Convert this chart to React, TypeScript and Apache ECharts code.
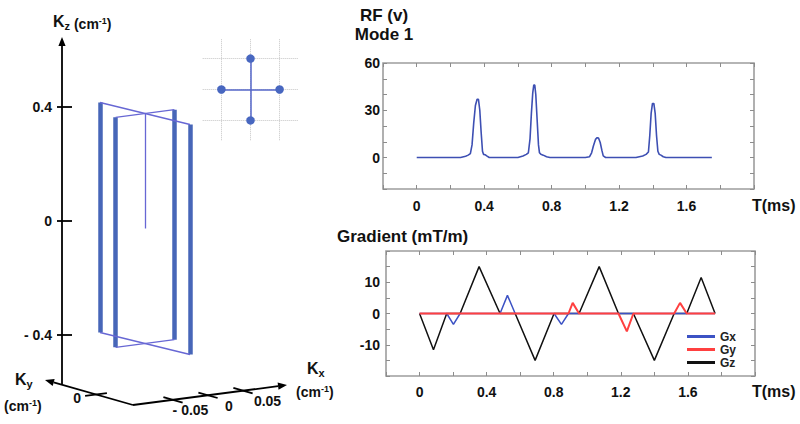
import React, { useEffect, useRef } from "react";
import * as echarts from "echarts";

// ---------- RF pulse (Mode 1), volts vs ms ----------
const rfTime = [
  0, 0.26, 0.29, 0.305, 0.318, 0.328, 0.338, 0.348, 0.358, 0.366, 0.374, 0.382, 0.39, 0.396, 0.405, 0.415, 0.43,
  0.6, 0.63, 0.65, 0.662, 0.672, 0.68, 0.688, 0.694, 0.7, 0.706, 0.714, 0.722, 0.728, 0.736, 0.75, 0.77, 0.79,
  1.0, 1.025, 1.037, 1.048, 1.06, 1.07, 1.078, 1.088, 1.098, 1.106, 1.12,
  1.3, 1.34, 1.36, 1.374, 1.382, 1.39, 1.398, 1.406, 1.414, 1.422, 1.43, 1.438, 1.448, 1.462, 1.478, 1.75,
];
const rfVolt = [
  0, 0, 0.8, 1.5, 2.5, 8, 22, 33, 37, 37, 30, 16, 4, 2, 1.8, 1, 0,
  0, 1, 2, 3, 12, 28, 41, 46, 46, 40, 24, 8, 3, 2, 1.5, 0.5, 0,
  0, 0.5, 3, 7.5, 11.5, 12.6, 12.4, 9.5, 4.5, 1, 0,
  0, 1, 2, 3.5, 14, 28, 34.3, 34.3, 28, 14, 4, 2, 1.5, 0.5, 0, 0,
];

// ---------- Gradients (mT/m) vs ms ----------
const gxTime = [0, 0.162, 0.202, 0.242, 0.48, 0.524, 0.57, 0.802, 0.846, 0.888, 1.762];
const gxValue = [0, 0, -3.5, 0, 0, 5.8, 0, 0, -3.5, 0, 0];
const gyTime = [0, 0.888, 0.913, 0.951, 1.186, 1.236, 1.275, 1.518, 1.553, 1.593, 1.762];
const gyValue = [0, 0, 3.4, 0, 0, -5.7, 0, 0, 3.4, 0, 0];
const gzTime = [0, 0.083, 0.162, 0.242, 0.355, 0.48, 0.57, 0.689, 0.802, 0.951, 1.071, 1.186, 1.275, 1.4, 1.518, 1.593, 1.679, 1.762];
const gzValue = [0, -11.6, 0, 0, 15, 0, 0, -15, 0, 0, 15, 0, 0, -15, 0, 0, 11.5, 0];

// ---------- tick labels ----------
const timeLabels = [0, 0.4, 0.8, 1.2, 1.6];
const rfLabels = [0, 30, 60];
const gradLabels = [-10, 0, 10];
const kzTicks = [0.4, 0, -0.4];
const kzTickLabels = ["0.4", "0", "- 0.4"];
const kxTicks = [-0.05, 0, 0.05];
const kxTickLabels = ["- 0.05", "0", "0.05"];
const kyTicks = [0];
const kyTickLabels = ["0"];

// ---------- k-space trajectory (cm^-1) : points A, B, C, D ----------
const trajKx = [0, -0.042, 0.042, 0];
const trajKy = [0.042, 0, 0, -0.042];
const kzExtent = [-0.4, 0.4];
const centerLineKz = [0, 0.4];
const crossPairs = [[0, 3], [1, 2]];
const insetGridVals = [-0.042, 0, 0.042];
const insetGridExtent = [-0.069, 0.069];

// ---------- layout / styling ----------
const FONT = '"Liberation Sans", Arial, Helvetica, sans-serif';
const P = { ox: 145, oy: 228.5, exX: 700, exY: -91, eyX: -1071, eyY: -262, s: 287.5 };
const KZ_AXIS = { x: 62, yBase: 384, tip: [62, 37], y0: 221, pxPerUnit: 285 };
const KY_AXIS = { from: [133, 405], tip: [45, 380], zeroX: 96, pxPerUnit: 1071 };
const KX_AXIS = { from: [133, 405], tip: [287, 385], zeroX: 208, pxPerUnit: 700 };

const proj = (kx: number, ky: number, kz: number): number[] => [
  P.ox + kx * P.exX + ky * P.eyX,
  P.oy + kx * P.exY + ky * P.eyY - kz * P.s,
];
const pair = (xs: number[], ys: number[]) => xs.map((x, i) => [x, ys[i]]);
const near = (list: number[], v: number) => list.find((t) => Math.abs(t - v) < 1e-6);
const yOnLine = (ax: { from: number[]; tip: number[] }, X: number) =>
  ax.from[1] + ((X - ax.from[0]) * (ax.tip[1] - ax.from[1])) / (ax.tip[0] - ax.from[0]);
const unit = (ax: { from: number[]; tip: number[] }) => {
  const dx = ax.tip[0] - ax.from[0];
  const dy = ax.tip[1] - ax.from[1];
  const l = Math.hypot(dx, dy);
  return [dx / l, dy / l];
};

function arrowHead(from: number[], tip: number[], len = 9, half = 3.6) {
  const dx = tip[0] - from[0];
  const dy = tip[1] - from[1];
  const l = Math.hypot(dx, dy);
  const ux = dx / l, uy = dy / l;
  const bx = tip[0] - ux * len, by = tip[1] - uy * len;
  return {
    line: { type: "line", silent: true, shape: { x1: from[0], y1: from[1], x2: bx, y2: by }, style: { stroke: "#000", lineWidth: 1.8 } },
    head: {
      type: "polygon", silent: true,
      shape: { points: [tip, [bx - uy * half, by + ux * half], [bx + uy * half, by - ux * half]] },
      style: { fill: "#000" },
    },
  };
}

function text(x: number, y: number, t: string, size: number, align = "left", vAlign = "middle") {
  return {
    type: "text", x, y, silent: true,
    style: {
      text: t, font: `bold ${size}px ${FONT}`, fill: "#111",
      align, verticalAlign: vAlign, textAlign: align, textVerticalAlign: vAlign,
    },
  };
}

const richBase = {
  k: { fontSize: 16, fontWeight: "bold", fontFamily: FONT, fill: "#111", lineHeight: 20, verticalAlign: "middle" },
  s: { fontSize: 11, fontWeight: "bold", fontFamily: FONT, fill: "#111", lineHeight: 9, verticalAlign: "bottom" },
  n: { fontSize: 14, fontWeight: "bold", fontFamily: FONT, fill: "#111", lineHeight: 15, verticalAlign: "bottom" },
  p: { fontSize: 9, fontWeight: "bold", fontFamily: FONT, fill: "#111", lineHeight: 20, verticalAlign: "middle" },
};
const richCm = {
  n: { fontSize: 14, fontWeight: "bold", fontFamily: FONT, fill: "#111", lineHeight: 16, verticalAlign: "middle" },
  p: { fontSize: 9, fontWeight: "bold", fontFamily: FONT, fill: "#111", lineHeight: 9, verticalAlign: "top" },
};
function richText(x: number, y: number, t: string, rich: any) {
  return {
    type: "text", x, y, silent: true,
    style: { text: t, rich, fill: "#111", font: `bold 14px ${FONT}`, align: "left", verticalAlign: "top", textAlign: "left", textVerticalAlign: "top" },
  };
}

const tickStyle = { show: true, inside: true, length: 4, lineStyle: { color: "#8c8c8c", width: 1 } };

function timeAxis(gridIndex: number, position: string, showLabel: boolean, margin: number) {
  return {
    type: "value", gridIndex, position, min: -0.2, max: 2.0, interval: 0.2,
    axisLine: { show: false, onZero: false }, splitLine: { show: false },
    axisTick: tickStyle,
    axisLabel: {
      show: showLabel, margin, color: "#111", fontFamily: FONT, fontWeight: "bold", fontSize: 14,
      formatter: (v: number) => { const t = near(timeLabels, v); return t === undefined ? "" : String(t); },
    },
  };
}
function valAxis(gridIndex: number, position: string, min: number, max: number, interval: number, labels: number[], showLabel: boolean, margin: number) {
  return {
    type: "value", gridIndex, position, min, max, interval,
    axisLine: { show: false, onZero: false }, splitLine: { show: false },
    axisTick: tickStyle,
    axisLabel: {
      show: showLabel, margin, color: "#111", fontFamily: FONT, fontWeight: "bold", fontSize: 14,
      formatter: (v: number) => { const t = near(labels, v); return t === undefined ? "" : String(t); },
    },
  };
}

function buildOption() {
  const thickSegs = trajKx.map((kx, i) => ({ coords: [proj(kx, trajKy[i], kzExtent[0]), proj(kx, trajKy[i], kzExtent[1])] }));
  const thinSegs: any[] = [];
  kzExtent.forEach((kz) =>
    crossPairs.forEach(([i, j]) => thinSegs.push({ coords: [proj(trajKx[i], trajKy[i], kz), proj(trajKx[j], trajKy[j], kz)] }))
  );
  thinSegs.push({ coords: [proj(0, 0, centerLineKz[0]), proj(0, 0, centerLineKz[1])] });

  const insetCross = crossPairs.map(([i, j]) => ({ coords: [[trajKx[i], trajKy[i]], [trajKx[j], trajKy[j]]] }));
  const insetGrid: any[] = [];
  insetGridVals.forEach((v) => {
    insetGrid.push({ coords: [[v, insetGridExtent[0]], [v, insetGridExtent[1]]] });
    insetGrid.push({ coords: [[insetGridExtent[0], v], [insetGridExtent[1], v]] });
  });

  const g: any[] = [];
  const kzA = arrowHead([KZ_AXIS.x, KZ_AXIS.yBase], KZ_AXIS.tip);
  const kyA = arrowHead(KY_AXIS.from, KY_AXIS.tip);
  const kxA = arrowHead(KX_AXIS.from, KX_AXIS.tip);
  g.push(kzA.line, kzA.head, kyA.line, kyA.head, kxA.line, kxA.head);

  kzTicks.forEach((kz, i) => {
    const Y = KZ_AXIS.y0 - kz * KZ_AXIS.pxPerUnit;
    g.push({ type: "line", silent: true, shape: { x1: KZ_AXIS.x - 5, y1: Y, x2: KZ_AXIS.x + 10, y2: Y }, style: { stroke: "#000", lineWidth: 1.8 } });
    g.push(text(KZ_AXIS.x - 10, Y, kzTickLabels[i], 14, "right"));
  });
  const kxDir = unit(KX_AXIS);
  const kyDir = unit(KY_AXIS);
  kyTicks.forEach((ky, i) => {
    const X = KY_AXIS.zeroX - ky * KY_AXIS.pxPerUnit;
    const Y = yOnLine(KY_AXIS, X);
    g.push({ type: "line", silent: true, shape: { x1: X - kxDir[0] * 11, y1: Y - kxDir[1] * 11, x2: X + kxDir[0] * 11, y2: Y + kxDir[1] * 11 }, style: { stroke: "#000", lineWidth: 1.8 } });
    g.push(text(X - 15, Y + 4, kyTickLabels[i], 14, "right"));
  });
  kxTicks.forEach((kx, i) => {
    const X = KX_AXIS.zeroX + kx * KX_AXIS.pxPerUnit;
    const Y = yOnLine(KX_AXIS, X);
    g.push({ type: "line", silent: true, shape: { x1: X + kyDir[0] * 10, y1: Y + kyDir[1] * 10, x2: X - kyDir[0] * 10, y2: Y - kyDir[1] * 10 }, style: { stroke: "#000", lineWidth: 1.8 } });
    g.push(text(X + 21 + kx * 70, Y + 10.5, kxTickLabels[i], 14, "center"));
  });

  g.push(richText(53, 11, "{k|K}{s|z}{n| (cm}{p|-1}{n|)}", richBase));
  g.push(richText(15, 369, "{k|K}{s|y}", { ...richBase, s: { ...richBase.s, lineHeight: 11 } }));
  g.push(richText(4, 398, "{n|(cm}{p|-1}{n|)}", richCm));
  g.push(richText(307, 358, "{k|K}{s|x}", { ...richBase, s: { ...richBase.s, lineHeight: 13 } }));
  g.push(richText(296, 384, "{n|(cm}{p|-1}{n|)}", richCm));

  g.push(text(384, 15, "RF (v)", 17, "center"));
  g.push(text(384, 34, "Mode 1", 17, "center"));
  g.push(text(337, 236, "Gradient (mT/m)", 17, "left"));
  g.push(text(752, 205, "T(ms)", 16, "left"));
  g.push(text(752, 391, "T(ms)", 16, "left"));

  return {
    animation: false,
    backgroundColor: "#fff",
    grid: [
      { left: 383, top: 63, width: 371, height: 126, show: true, borderColor: "#9d9d9d", borderWidth: 1.6, backgroundColor: "transparent" },
      { left: 386, top: 251, width: 369, height: 125, show: true, borderColor: "#9d9d9d", borderWidth: 1.6, backgroundColor: "transparent" },
      { left: 0, top: 0, width: 300, height: 424, show: false },
      { left: 202, top: 38, width: 97, height: 103, show: false },
    ],
    xAxis: [
      timeAxis(0, "bottom", true, 10),
      timeAxis(0, "top", false, 8),
      timeAxis(1, "bottom", true, 9),
      timeAxis(1, "top", false, 8),
      { type: "value", gridIndex: 2, min: 0, max: 300, show: false },
      { type: "value", gridIndex: 3, min: -0.07, max: 0.07, show: false },
    ],
    yAxis: [
      valAxis(0, "left", -20, 60, 10, rfLabels, true, 3),
      valAxis(0, "right", -20, 60, 10, rfLabels, false, 8),
      valAxis(1, "left", -20, 20, 5, gradLabels, true, 6),
      valAxis(1, "right", -20, 20, 5, gradLabels, false, 8),
      { type: "value", gridIndex: 2, min: 0, max: 424, inverse: true, show: false },
      { type: "value", gridIndex: 3, min: -0.07, max: 0.07, show: false },
    ],
    legend: {
      data: ["Gx", "Gy", "Gz"], orient: "vertical", left: 687, top: 330, padding: 0, itemGap: 0,
      itemWidth: 28, itemHeight: 3, icon: "rect", selectedMode: false,
      textStyle: { fontFamily: FONT, fontWeight: "bold", fontSize: 12, color: "#222", lineHeight: 13 },
    },
    series: [
      {
        name: "RF", type: "line", xAxisIndex: 0, yAxisIndex: 0, data: pair(rfTime, rfVolt),
        symbol: "none", showSymbol: false, silent: true,
        lineStyle: { color: "#3d4fb3", width: 1.6 }, itemStyle: { color: "#3d4fb3" },
      },
      {
        name: "Gz", type: "line", xAxisIndex: 2, yAxisIndex: 2, data: pair(gzTime, gzValue),
        symbol: "none", showSymbol: false, silent: true,
        lineStyle: { color: "#111", width: 1.5 }, itemStyle: { color: "#111" },
      },
      {
        name: "Gx", type: "line", xAxisIndex: 2, yAxisIndex: 2, data: pair(gxTime, gxValue),
        symbol: "none", showSymbol: false, silent: true,
        lineStyle: { color: "#3c52c4", width: 1.5 }, itemStyle: { color: "#3c52c4" },
      },
      {
        name: "Gy", type: "line", xAxisIndex: 2, yAxisIndex: 2, data: pair(gyTime, gyValue),
        symbol: "none", showSymbol: false, silent: true,
        lineStyle: { color: "#ff4040", width: 2 }, itemStyle: { color: "#ff4040" },
      },
      {
        type: "lines", coordinateSystem: "cartesian2d", xAxisIndex: 4, yAxisIndex: 4, silent: true,
        data: thickSegs, lineStyle: { color: "#4766b8", width: 4.5, opacity: 1, curveness: 0 },
      },
      {
        type: "lines", coordinateSystem: "cartesian2d", xAxisIndex: 4, yAxisIndex: 4, silent: true,
        data: thinSegs, lineStyle: { color: "#6767d4", width: 1.3, opacity: 1, curveness: 0 },
      },
      {
        type: "lines", coordinateSystem: "cartesian2d", xAxisIndex: 5, yAxisIndex: 5, silent: true,
        data: insetGrid, lineStyle: { color: "#c4c4c4", width: 1, opacity: 1, type: "dotted", curveness: 0 },
      },
      {
        type: "lines", coordinateSystem: "cartesian2d", xAxisIndex: 5, yAxisIndex: 5, silent: true,
        data: insetCross, lineStyle: { color: "#5566c8", width: 1.5, opacity: 1, curveness: 0 },
      },
      {
        type: "scatter", xAxisIndex: 5, yAxisIndex: 5, silent: true, z: 5,
        data: pair(trajKx, trajKy), symbolSize: 8.5, itemStyle: { color: "#4867c0", opacity: 1 },
      },
    ],
    graphic: { elements: g },
  };
}

export default function App() {
  const ref = useRef<HTMLDivElement>(null);
  useEffect(() => {
    if (!ref.current) return;
    const chart = echarts.init(ref.current, undefined, { renderer: "svg" });
    chart.setOption(buildOption() as any);
    return () => chart.dispose();
  }, []);
  return (
    <div
      ref={ref}
      style={{ position: "fixed", left: 0, top: 0, width: 800, height: 424, background: "#fff" }}
    />
  );
}
